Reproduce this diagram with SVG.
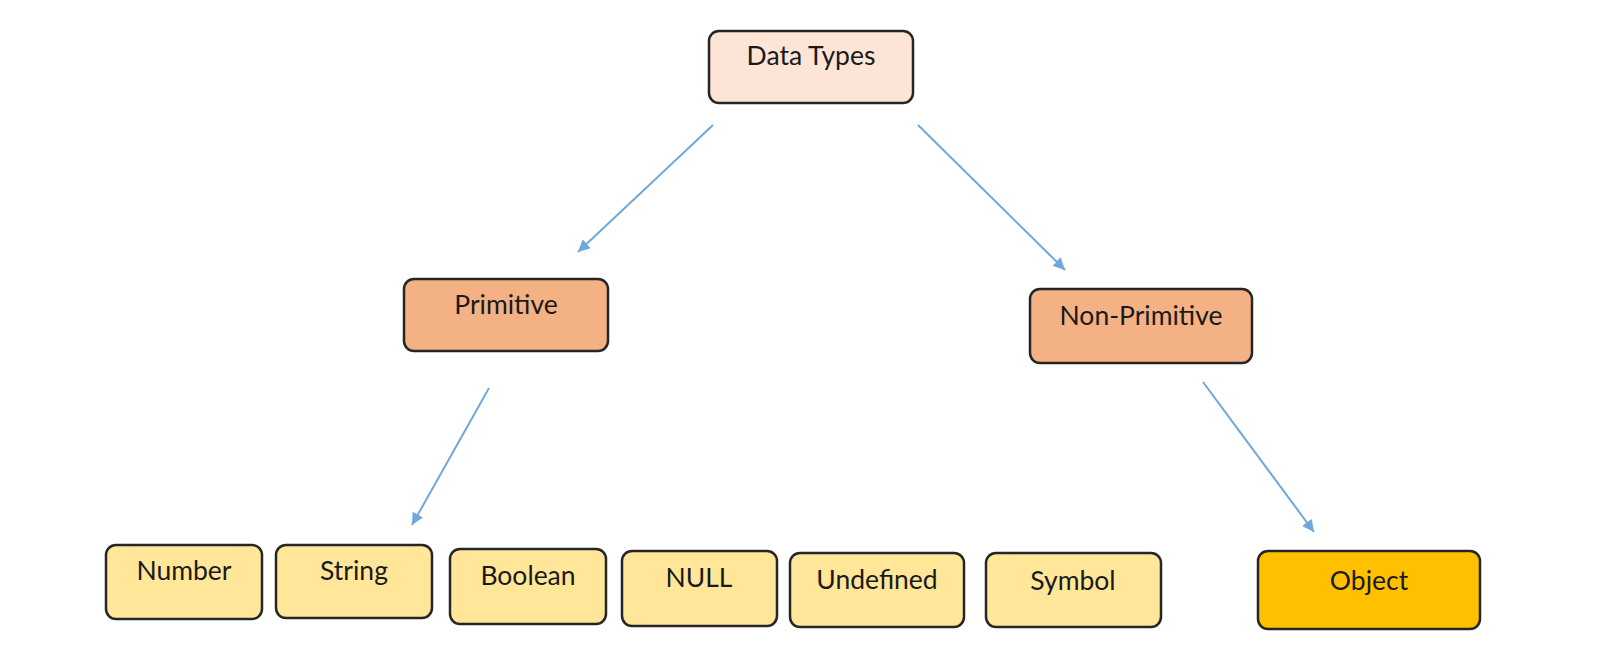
<svg xmlns="http://www.w3.org/2000/svg" width="1610" height="648" viewBox="0 0 1610 648">
<style>
.box{stroke:#262626;stroke-width:2.5}
.t0{fill:#fce4d6}
.t1{fill:#f4b183}
.t2{fill:#ffe699}
.t3{fill:#ffc000}
text{font-family:"Lato","Open Sans","Liberation Sans",sans-serif;font-size:26.5px;fill:#1a1a1a;text-anchor:middle}
.edge{stroke:#6fa8dc;stroke-width:2;fill:none;marker-end:url(#ah)}
</style>
<defs>
<marker id="ah" markerUnits="userSpaceOnUse" markerWidth="14" markerHeight="12" refX="12" refY="6" orient="auto">
<path d="M0,0 L12,6 L0,12 z" fill="#6fa8dc"/>
</marker>
</defs>
<rect width="1610" height="648" fill="#ffffff"/>
<g id="connectors">
<line class="edge" x1="713" y1="125" x2="578" y2="252"/>
<line class="edge" x1="918" y1="125" x2="1065" y2="270"/>
<line class="edge" x1="489" y1="388" x2="412" y2="525"/>
<line class="edge" x1="1203" y1="382" x2="1314" y2="532"/>
</g>
<g id="n-datatypes"><rect class="box t0" x="709" y="31" width="204" height="72" rx="10"/><text x="811" y="65">Data Types</text></g>
<g id="n-primitive"><rect class="box t1" x="404" y="279" width="204" height="72" rx="10"/><text x="506" y="314">Primitive</text></g>
<g id="n-nonprimitive"><rect class="box t1" x="1030" y="289" width="222" height="74" rx="10"/><text x="1141" y="325">Non-Primitive</text></g>
<g id="n-number"><rect class="box t2" x="106" y="545" width="156" height="74" rx="10"/><text x="184" y="580">Number</text></g>
<g id="n-string"><rect class="box t2" x="276" y="545" width="156" height="73" rx="10"/><text x="354" y="580">String</text></g>
<g id="n-boolean"><rect class="box t2" x="450" y="549" width="156" height="75" rx="10"/><text x="528" y="585">Boolean</text></g>
<g id="n-null"><rect class="box t2" x="622" y="551" width="155" height="75" rx="10"/><text x="699" y="587">NULL</text></g>
<g id="n-undefined"><rect class="box t2" x="790" y="553" width="174" height="74" rx="10"/><text x="877" y="589">Undefined</text></g>
<g id="n-symbol"><rect class="box t2" x="986" y="553" width="175" height="74" rx="10"/><text x="1073" y="590">Symbol</text></g>
<g id="n-object"><rect class="box t3" x="1258" y="551" width="222" height="78" rx="10"/><text x="1369" y="590">Object</text></g>
</svg>
